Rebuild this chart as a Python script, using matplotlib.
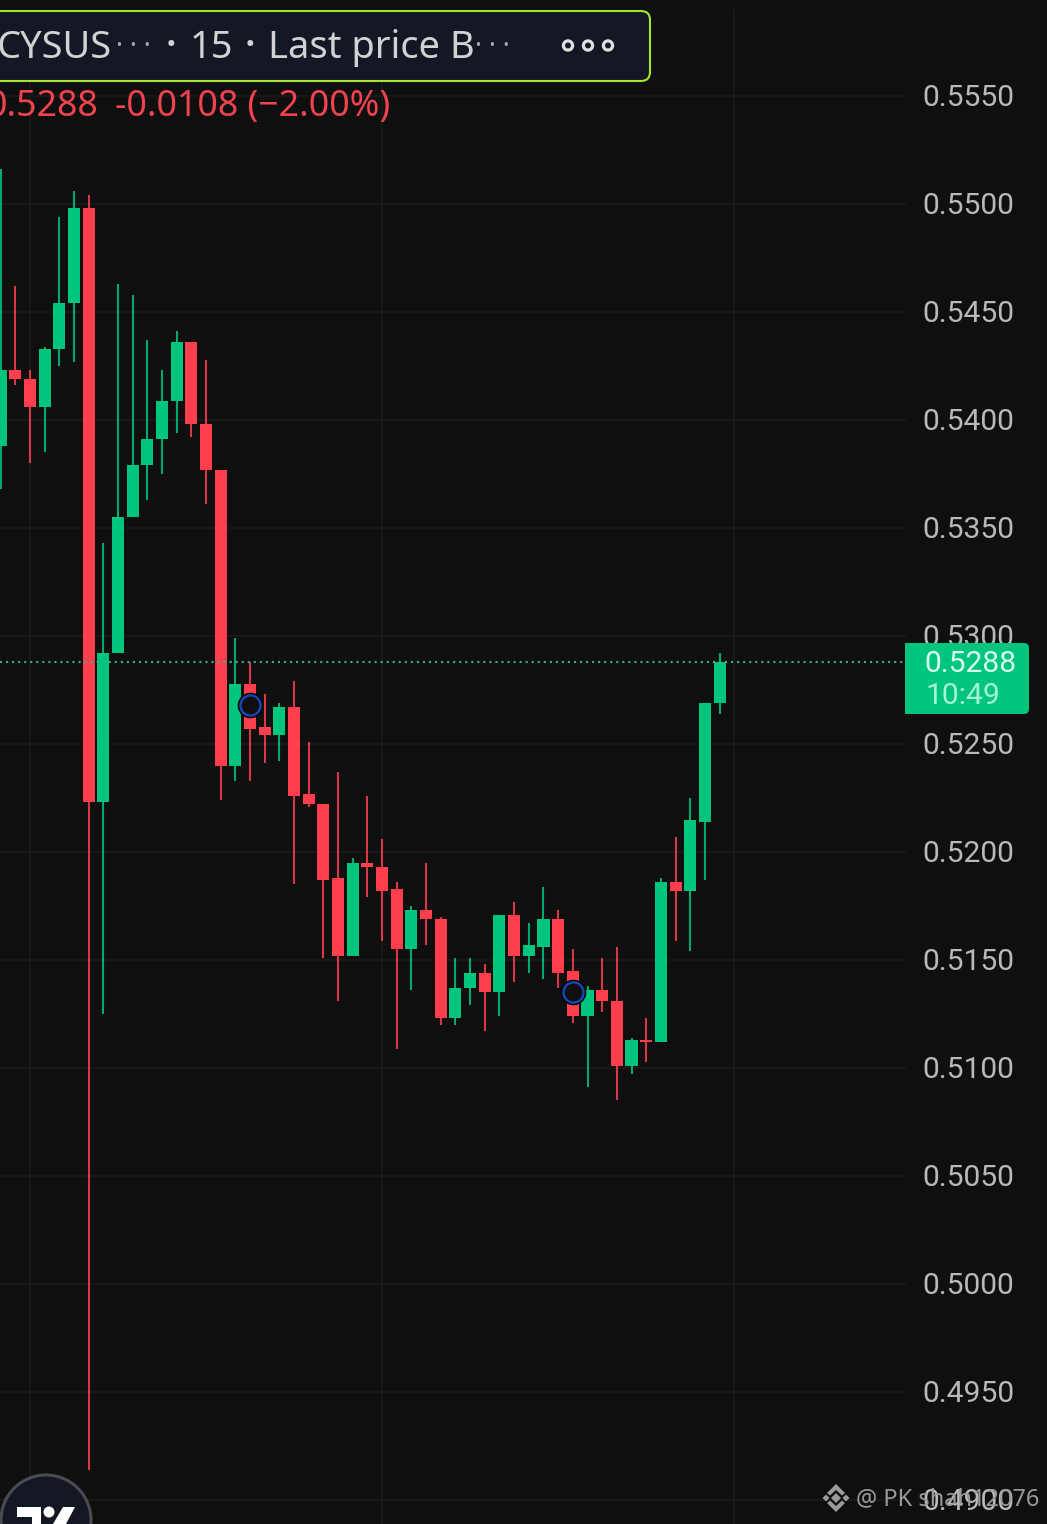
import matplotlib
matplotlib.use("Agg")
import matplotlib.pyplot as plt
from matplotlib.patches import FancyBboxPatch, Circle, Polygon, Rectangle

W, H = 1047, 1524
BG = "#0f0f0f"
GRID = "#181818"
UP = "#00c57d"
DOWN = "#ff3f4e"

opens = [.5388,.5423,.5419,.5406,.5433,.5454,.5498,.5223,.5292,.5355,.5379,.5391,.5409,.5436,.5398,.5377,
         .5240,.5278,.5258,.5254,.5267,.5227,.5222,.5188,.5152,.5195,.5193,.5183,.5155,.5173,.5169,.5123,
         .5137,.5144,.5135,.5171,.5152,.5156,.5169,.5145,.5124,.5136,.5131,.5101,.5113,.5112,.5186,.5182,.5214,.5269]
highs = [.5516,.5462,.5423,.5434,.5494,.5506,.5504,.5343,.5463,.5458,.5437,.5423,.5441,.5436,.5428,.5377,
         .5299,.5288,.5273,.5269,.5279,.5251,.5222,.5237,.5197,.5226,.5206,.5186,.5175,.5195,.5170,.5151,
         .5151,.5148,.5171,.5177,.5167,.5184,.5173,.5155,.5138,.5151,.5156,.5114,.5123,.5188,.5207,.5225,.5269,.5292]
lows = [.5368,.5416,.5380,.5385,.5425,.5427,.4914,.5125,.5292,.5355,.5363,.5375,.5394,.5392,.5361,.5224,
        .5233,.5233,.5241,.5242,.5185,.5221,.5151,.5131,.5152,.5179,.5159,.5109,.5136,.5157,.5120,.5120,
        .5129,.5117,.5124,.5140,.5144,.5141,.5137,.5121,.5091,.5126,.5085,.5097,.5103,.5112,.5159,.5154,.5187,.5264]
closes = [.5423,.5419,.5406,.5433,.5454,.5498,.5223,.5292,.5355,.5379,.5391,.5409,.5436,.5398,.5377,.5240,
          .5278,.5257,.5254,.5267,.5226,.5222,.5187,.5152,.5195,.5193,.5182,.5155,.5173,.5169,.5123,.5137,
          .5144,.5135,.5171,.5152,.5157,.5169,.5144,.5124,.5136,.5131,.5101,.5113,.5112,.5186,.5182,.5215,.5269,.5288]
price_ticks = [.5550,.5500,.5450,.5400,.5350,.5300,.5250,.5200,.5150,.5100,.5050,.5000,.4950,.4900]
time_grid = [2, 26, 50]
marker_bars = [17, 39]
marker_price = [.5268, .5135]
last_price = 0.5288
symbol_text = "CYSUS"
interval_text = "15"
style_text = "Last price B"
ohlc_text = "0.5288"
change_text = "-0.0108 (\u22122.00%)"
countdown = "10:49"
watermark = "@ PK shah12076"

fig = plt.figure(figsize=(W/100, H/100), dpi=100, facecolor=BG)
ax = fig.add_axes([0, 0, 1, 1], facecolor=BG)
ax.set_ylim(0.5550 - (H-96)/21600, 0.5550 + 96/21600)
ax.set_xlim(-0.7/14.67, (W-0.7)/14.67)
ax.axis("off")

px_right = (905-1)/14.67
for p in price_ticks:
    ax.plot([ax.get_xlim()[0], px_right], [p, p], color=GRID, lw=1.6, zorder=1)
for t in time_grid:
    ax.plot([t, t], [ax.get_ylim()[0], 0.5550 + 86/21600], color=GRID, lw=1.6, zorder=1)

for i, (o, h, l, c) in enumerate(zip(opens, highs, lows, closes)):
    col = UP if c >= o else DOWN
    ax.plot([i, i], [l, h], color=col, lw=1.5, solid_capstyle="butt", zorder=3, alpha=0.85)
    ax.add_patch(Rectangle((i-0.41, min(o, c)), 0.82, abs(c-o), facecolor=col, edgecolor="none", zorder=4))

ax.plot([ax.get_xlim()[0], px_right], [last_price, last_price], color="#35b389", lw=1.5,
        ls=(0, (1, 1.9)), zorder=5)

ov = fig.add_axes([0, 0, 1, 1], facecolor="none")
ov.set_xlim(0, W); ov.set_ylim(H, 0); ov.axis("off")

for b, p in zip(marker_bars, marker_price):
    ax.plot([b], [p], "o", ms=17, mfc=BG, mec="#000000", mew=1.4, zorder=6)
    ax.plot([b], [p], "o", ms=14.5, mfc="none", mec="#1448b8", mew=1.7, zorder=7)

FONT = "Roboto"
HEAD = "Noto Sans"
TICK_FS = 21.6
for p in price_ticks:
    y = 96 + (0.5550-p)*21600
    ov.text(922.5, y + 1.5, f"{p:.4f}", color="#b9b9b9", fontsize=TICK_FS, family=FONT, va="center", ha="left", zorder=2)

ov.add_patch(FancyBboxPatch((905, 643), 124, 71, boxstyle="round,pad=0,rounding_size=5", facecolor=UP, edgecolor="none", zorder=5))
ov.add_patch(Rectangle((905, 643), 10, 71, facecolor=UP, edgecolor="none", zorder=5))
ov.text(924, 664.5, f"{last_price:.4f}", color="#d8fff2", fontsize=TICK_FS, family=FONT, va="center", ha="left", zorder=6)
ov.text(925, 696.5, countdown, color="#a5f3d6", fontsize=TICK_FS, family=FONT, va="center", ha="left", zorder=6)

# header
ov.add_patch(FancyBboxPatch((-30, 11), 680, 70, boxstyle="round,pad=0,rounding_size=9", facecolor="#141824",
                            edgecolor="#a4e62a", lw=1.5, zorder=8))
HC = "#d2d2d2"
YH = 48
HFS = 27.4
ov.text(111.5, YH, symbol_text, color=HC, fontsize=HFS, family=HEAD, va="center", ha="right", zorder=9)
ov.text(190, YH, interval_text, color=HC, fontsize=HFS, family=HEAD, va="center", ha="left", zorder=9)
ov.text(268, YH, style_text, color=HC, fontsize=HFS, family=HEAD, va="center", ha="left", zorder=9)
for cx in (133, 492):
    ov.text(cx, 47, "\u00b7 \u00b7 \u00b7", color="#a8a8a8", fontsize=19, family=HEAD, va="center", ha="center", zorder=9)
ov.text(171, YH, "\u00b7", color=HC, fontsize=34, family=HEAD, va="center", ha="center", zorder=9)
ov.text(250, YH, "\u00b7", color=HC, fontsize=34, family=HEAD, va="center", ha="center", zorder=9)
for x in (568, 588, 608):
    ov.add_patch(Circle((x, 45.5), 4.6, facecolor="none", edgecolor="#e0e0e0", lw=2.3, zorder=9))
ov.text(98, 107.5, ohlc_text, color="#f0434f", fontsize=25.7, family=HEAD, va="center", ha="right", zorder=9)
ov.text(115, 107.5, change_text, color="#f0434f", fontsize=25.7, family=HEAD, va="center", ha="left", zorder=9)

# logo
ov.add_patch(Circle((46, 1520), 45, facecolor="#131722", edgecolor="#4a4b50", lw=2.2, zorder=9))
ov.add_patch(Polygon([(17,1507),(41,1507),(41,1524),(32,1524),(32,1517),(17,1517)], facecolor="white", edgecolor="none", zorder=10))
ov.add_patch(Circle((49, 1512), 5.5, facecolor="white", edgecolor="none", zorder=10))
ov.add_patch(Polygon([(63,1507),(75,1507),(66,1524),(53,1524)], facecolor="white", edgecolor="none", zorder=10))

# watermark
WM = "#9a9a9a"
ov.text(856, 1499, watermark, color=WM, fontsize=17, family=HEAD, va="center", ha="left", zorder=3)
for cx, s in [(836,5),(826,3.5),(846,3.5)]:
    ov.add_patch(Polygon([(cx-s,1498),(cx,1498-s),(cx+s,1498),(cx,1498+s)], facecolor=WM, edgecolor="none", zorder=3))
ov.add_patch(Polygon([(836,1484),(845,1493),(842,1495.5),(836,1490),(830,1495.5),(827,1493)], facecolor=WM, edgecolor="none", zorder=3))
ov.add_patch(Polygon([(836,1512),(845,1503),(842,1500.5),(836,1506),(830,1500.5),(827,1503)], facecolor=WM, edgecolor="none", zorder=3))

fig.savefig("out.png", dpi=100, facecolor=BG)
